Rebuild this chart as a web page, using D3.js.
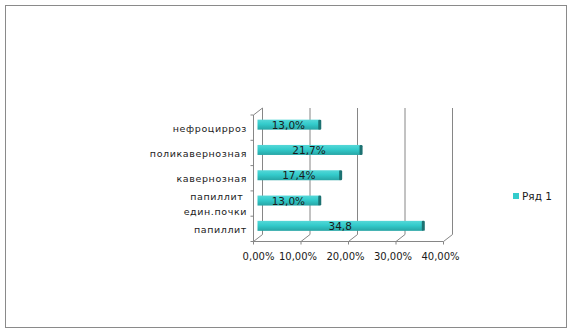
<!DOCTYPE html>
<html>
<head>
<meta charset="utf-8">
<script src="https://cdn.jsdelivr.net/npm/d3@7"></script>
<style>
  body { margin: 0; background: #fff; }
  text { font-family: "DejaVu Sans", sans-serif; }
</style>
</head>
<body>
<svg></svg>
<script>
// top to bottom, as drawn
let categories = ['нефроцирроз', 'поликавернозная', 'кавернозная', 'папиллит |един.почки', 'папиллит'];
let values = [0.13, 0.217, 0.174, 0.13, 0.348];
let valueLabels = ['13,0%', '21,7%', '17,4%', '13,0%', '34,8'];
let xTicks = [0, 0.1, 0.2, 0.3, 0.4];
let xTickLabels = ['0,00%', '10,00%', '20,00%', '30,00%', '40,00%'];
let seriesName = 'Ряд 1';

let width = 571;
let height = 333;

// 3d depth offset of the back wall
let depthX = 9;
let depthY = -7;

const svg = d3.select('svg')
              .attr('width', width)
              .attr('height', height);

let defs = svg.append('defs');
let grad = defs.append('linearGradient')
               .attr('id', 'barGrad')
               .attr('x1', 0).attr('y1', 0).attr('x2', 0).attr('y2', 1);
grad.append('stop').attr('offset', '0%').attr('stop-color', '#55d8d8');
grad.append('stop').attr('offset', '45%').attr('stop-color', '#33cbcb');
grad.append('stop').attr('offset', '100%').attr('stop-color', '#27a5a5');

// outer border
svg.append('rect')
   .attr('x', 5.5).attr('y', 5.5)
   .attr('width', 561).attr('height', 322)
   .attr('fill', 'none')
   .attr('stroke', '#8a8a8a');

let xScale = d3.scaleLinear()
               .domain([0, 0.4])
               .range([253.5, 443.5]);

let yScale = d3.scaleBand()
               .domain(categories)
               .range([115, 241.5]);

let floorY = yScale.range()[1];
let topY = yScale.range()[0];
let grid = '#868686';

// back wall gridlines
svg.selectAll('.grid')
   .data(xTicks)
   .enter()
   .append('line')
   .attr('class', 'grid')
   .attr('x1', d => xScale(d) + depthX)
   .attr('x2', d => xScale(d) + depthX)
   .attr('y1', topY + depthY)
   .attr('y2', floorY + depthY)
   .attr('stroke', grid);

// floor diagonals
svg.selectAll('.diag')
   .data(xTicks)
   .enter()
   .append('line')
   .attr('class', 'diag')
   .attr('x1', d => xScale(d))
   .attr('x2', d => xScale(d) + depthX)
   .attr('y1', floorY)
   .attr('y2', floorY + depthY)
   .attr('stroke', grid);

// left wall top diagonal
svg.append('line')
   .attr('x1', xScale(0)).attr('y1', topY)
   .attr('x2', xScale(0) + depthX).attr('y2', topY + depthY)
   .attr('stroke', grid);

// front axes
svg.append('line')
   .attr('x1', xScale(0)).attr('x2', xScale(0))
   .attr('y1', topY).attr('y2', floorY)
   .attr('stroke', grid);
svg.append('line')
   .attr('x1', xScale(0)).attr('x2', xScale(0.4))
   .attr('y1', floorY).attr('y2', floorY)
   .attr('stroke', grid);

// x ticks
svg.selectAll('.xtick')
   .data(xTicks)
   .enter()
   .append('line')
   .attr('x1', d => xScale(d)).attr('x2', d => xScale(d))
   .attr('y1', floorY).attr('y2', floorY + 3)
   .attr('stroke', grid);

// category ticks
let catEdges = categories.map(c => yScale(c)).concat([floorY]);
svg.selectAll('.ytick')
   .data(catEdges)
   .enter()
   .append('line')
   .attr('x1', xScale(0) - 3).attr('x2', xScale(0))
   .attr('y1', d => d).attr('y2', d => d)
   .attr('stroke', grid);

// x tick labels
svg.selectAll('.xlabel')
   .data(xTicks)
   .enter()
   .append('text')
   .attr('x', (d, i) => xScale(d) + (i === 0 ? 5 : -3))
   .attr('y', floorY + 18)
   .attr('text-anchor', 'middle')
   .attr('font-size', '10px')
   .attr('fill', '#1a1a1a')
   .text((d, i) => xTickLabels[i]);

// category labels
svg.selectAll('.ylabel')
   .data(categories)
   .enter()
   .append('text')
   .attr('text-anchor', 'end')
   .attr('font-size', '9.5px')
   .attr('letter-spacing', '0.6px')
   .attr('fill', '#1a1a1a')
   .each(function(d) {
       let lines = d.split('|');
       let cy = yScale(d) + yScale.bandwidth() / 2;
       let el = d3.select(this);
       lines.forEach((l, j) => {
           el.append('tspan')
             .attr('x', 247)
             .attr('y', cy + 4 + (j - (lines.length - 1) / 2) * 15.5)
             .text(l);
       });
   });

// bars
let barH = 10;
let shiftX = 4;
let shiftY = -3;
let barY = d => yScale(d) + yScale.bandwidth() / 2 - barH / 2 + shiftY;

svg.selectAll('.bar')
   .data(categories)
   .enter()
   .append('rect')
   .attr('class', 'bar')
   .attr('x', xScale(0) + shiftX)
   .attr('y', d => barY(d))
   .attr('width', (d, i) => xScale(values[i]) - xScale(0))
   .attr('height', barH)
   .attr('fill', 'url(#barGrad)');

svg.selectAll('.cap')
   .data(categories)
   .enter()
   .append('rect')
   .attr('x', (d, i) => xScale(values[i]) + shiftX - 1)
   .attr('y', d => barY(d))
   .attr('width', 3)
   .attr('height', barH)
   .attr('rx', 1.2)
   .attr('fill', '#1d7272');

// value labels
svg.selectAll('.vlabel')
   .data(categories)
   .enter()
   .append('text')
   .attr('x', (d, i) => (xScale(0) + xScale(values[i])) / 2 + shiftX)
   .attr('y', d => barY(d) + barH / 2 + 4)
   .attr('text-anchor', 'middle')
   .attr('font-size', '10.5px')
   .attr('fill', '#1a1a1a')
   .text((d, i) => valueLabels[i]);

// legend
svg.append('rect')
   .attr('x', 513).attr('y', 193)
   .attr('width', 6).attr('height', 6)
   .attr('fill', '#33cccc');
svg.append('text')
   .attr('x', 522).attr('y', 200)
   .attr('font-size', '10.5px')
   .attr('fill', '#1a1a1a')
   .text(seriesName);
</script>
</body>
</html>
